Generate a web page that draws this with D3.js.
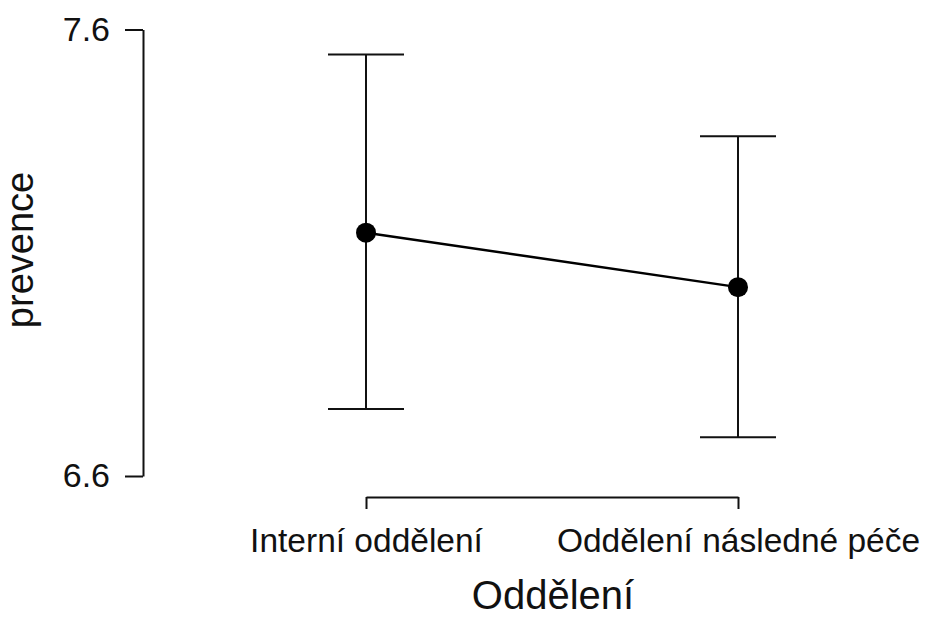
<!DOCTYPE html>
<html>
<head>
<meta charset="utf-8">
<script src="https://cdn.jsdelivr.net/npm/d3@7"></script>
<style>
  body { margin: 0; background: #fff; }
  svg { display: block; font-family: Arial, 'Liberation Sans', sans-serif; }
</style>
</head>
<body>
<svg id="chart" width="925" height="619"></svg>
<script>
// group means with their confidence limits
const categories = ['Interní oddělení', 'Oddělení následné péče'];
const means = [7.145, 7.023];
const lower = [6.750, 6.687];
const upper = [7.544, 7.361];
const yTicks = [6.6, 7.6];

const svg = d3.select('#chart');
const ink = '#111';

const x = d3.scalePoint()
  .domain(categories)
  .range([366, 738]);

const y = d3.scaleLinear()
  .domain([6.6, 7.6])
  .range([476, 29.5]);

const rows = categories.map((c, i) => ({ cat: c, mean: means[i], lo: lower[i], hi: upper[i] }));

// y axis
const yAxis = svg.append('g')
  .attr('transform', 'translate(143,0)')
  .call(d3.axisLeft(y).tickValues(yTicks).tickFormat(d3.format('.1f'))
    .tickSize(18).tickSizeOuter(0).tickPadding(15));
yAxis.selectAll('path, line').attr('stroke', ink).attr('stroke-width', 2);
yAxis.selectAll('text').attr('fill', ink).style('font-size', '34px')
  .style('font-family', 'Arial, "Liberation Sans", sans-serif');

// x axis (bracket between the two groups)
const xAxis = svg.append('g')
  .attr('transform', 'translate(0,497)')
  .call(d3.axisBottom(x).tickSize(12).tickSizeOuter(0).tickPadding(19));
xAxis.selectAll('path, line').attr('stroke', ink).attr('stroke-width', 2);
xAxis.selectAll('text').attr('fill', ink).style('font-size', '33.5px')
  .style('font-family', 'Arial, "Liberation Sans", sans-serif');

// error bars
const bars = svg.append('g').attr('stroke', ink).attr('stroke-width', 2);
bars.selectAll('.stem').data(rows).enter().append('line')
  .attr('x1', d => x(d.cat)).attr('x2', d => x(d.cat))
  .attr('y1', d => y(d.hi)).attr('y2', d => y(d.lo));
bars.selectAll('.cap-hi').data(rows).enter().append('line')
  .attr('x1', d => x(d.cat) - 38).attr('x2', d => x(d.cat) + 38)
  .attr('y1', d => y(d.hi)).attr('y2', d => y(d.hi));
bars.selectAll('.cap-lo').data(rows).enter().append('line')
  .attr('x1', d => x(d.cat) - 38).attr('x2', d => x(d.cat) + 38)
  .attr('y1', d => y(d.lo)).attr('y2', d => y(d.lo));

// line through means
svg.append('path')
  .datum(rows)
  .attr('fill', 'none')
  .attr('stroke', '#000')
  .attr('stroke-width', 2.5)
  .attr('d', d3.line().x(d => x(d.cat)).y(d => y(d.mean)));

svg.selectAll('.pt').data(rows).enter().append('circle')
  .attr('cx', d => x(d.cat))
  .attr('cy', d => y(d.mean))
  .attr('r', 10)
  .attr('fill', '#000');

// axis titles
svg.append('text')
  .attr('x', 553).attr('y', 609)
  .attr('text-anchor', 'middle')
  .style('font-size', '40px')
  .attr('fill', ink)
  .text('Oddělení');

svg.append('text')
  .attr('transform', 'translate(33,250) rotate(-90)')
  .attr('text-anchor', 'middle')
  .style('font-size', '38px')
  .attr('fill', ink)
  .text('prevence');
</script>
</body>
</html>
